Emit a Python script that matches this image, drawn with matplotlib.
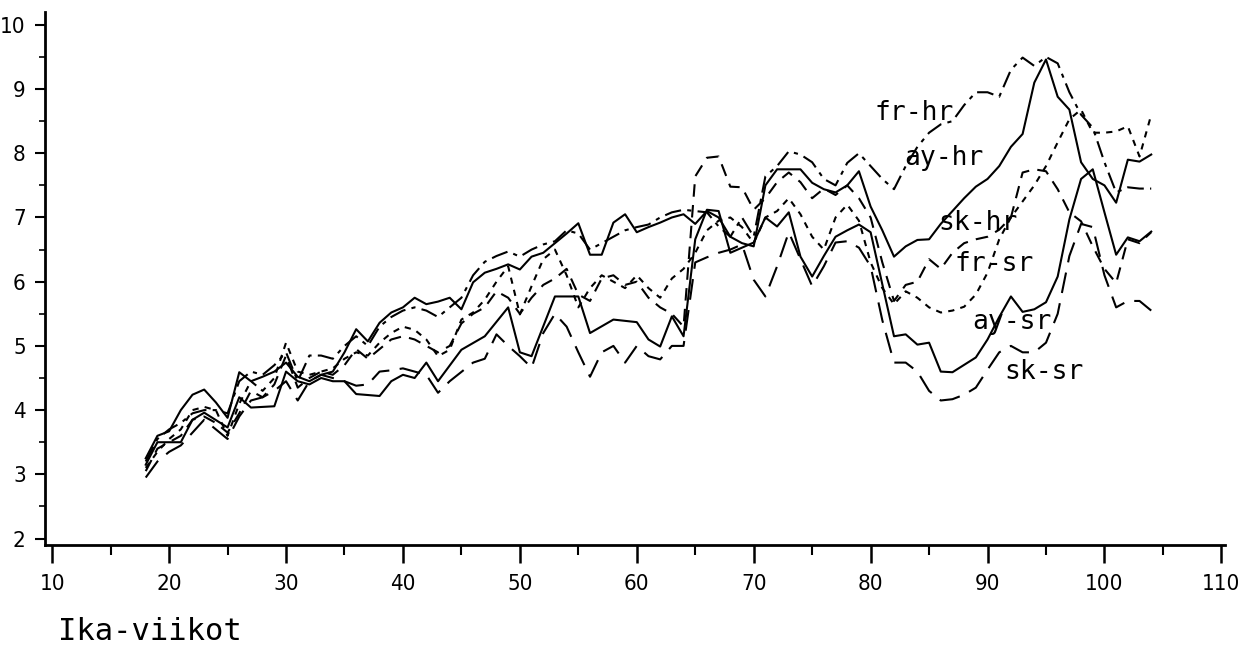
"""
Weekly curves by group, weeks 18-104
"""
import matplotlib
matplotlib.use('Agg')
import matplotlib.pyplot as plt
from matplotlib.ticker import MultipleLocator

# data (week, value)
frhr_w = [18,19,20,21,22,23,24,25,26,27,28,29,30,31,32,33,34,35,36,37,38,39,40,41,42,43,44,45,46,47,48,49,50,
          51,52,53,54,55,56,57,58,59,60,61,62,63,64,65,66,67,68,69,70,71,72,73,74,75,76,77,78,79,80,81,82,83,
          84,85,86,87,88,89,90,91,92,93,94,95,96,97,98,99,100,101,102,103,104]
frhr_v = [3.2,3.55,3.7,3.8,3.95,4.0,4.0,3.95,4.45,4.6,4.55,4.7,4.9,4.45,4.85,4.85,4.8,5.0,5.15,5.0,5.3,5.45,
          5.55,5.6,5.55,5.45,5.6,5.75,6.1,6.31,6.4,6.47,6.39,6.5,6.58,6.63,6.8,6.75,6.5,6.6,6.7,6.8,6.85,
          6.89,7.0,7.08,7.12,7.1,7.08,6.86,6.7,7.0,6.7,7.64,7.8,8.03,7.98,7.86,7.6,7.5,7.85,8.0,7.8,7.6,
          7.44,7.8,8.1,8.32,8.45,8.5,8.75,8.95,8.95,8.88,9.3,9.49,9.36,9.5,9.4,8.95,8.6,8.4,7.86,7.39,
          7.47,7.45,7.45]

ayhr_w = [18,19,20,21,22,23,24,25,26,27,28,29,30,31,32,33,34,35,36,37,38,39,40,41,42,43,44,45,46,47,48,49,50,
          51,52,53,54,55,56,57,58,59,60,61,62,63,64,65,66,67,68,69,70,71,72,73,74,75,76,77,78,79,80,81,82,83,
          84,85,86,87,88,89,90,91,92,93,94,95,96,97,98,99,100,101,102,103,104]
ayhr_v = [3.25,3.6,3.67,4.0,4.24,4.32,4.12,3.88,4.59,4.45,4.52,4.6,4.74,4.52,4.45,4.55,4.6,4.9,5.26,5.07,5.36,
          5.52,5.6,5.75,5.65,5.69,5.75,5.57,5.99,6.14,6.2,6.27,6.19,6.39,6.45,6.6,6.75,6.91,6.42,6.42,6.92,
          7.05,6.77,6.85,6.92,7.0,7.05,6.9,7.1,7.0,6.7,6.6,6.55,7.5,7.75,7.75,7.75,7.54,7.44,7.39,7.5,7.72,
          7.17,6.8,6.39,6.55,6.65,6.66,6.9,7.1,7.3,7.48,7.6,7.8,8.1,8.3,9.1,9.46,8.88,8.68,7.86,7.6,7.5,
          7.23,7.9,7.87,7.98]

skhr_w = [18,19,20,21,22,23,24,25,26,27,28,29,30,31,32,33,34,35,36,37,38,39,40,41,42,43,44,45,46,47,48,49,50,
          51,52,53,54,55,56,57,58,59,60,61,62,63,64,65,66,67,68,69,70,71,72,73,74,75,76,77,78,79,80,81,82,83,
          84,85,86,87,88,89,90,91,92,93,94,95,96,97,98,99,100,101,102,103,104]
skhr_v = [3.05,3.4,3.5,3.6,3.85,3.9,3.8,3.65,3.95,4.3,4.2,4.4,4.85,4.35,4.5,4.6,4.55,4.7,4.95,4.8,4.95,5.1,
          5.15,5.1,5.0,4.9,5.0,5.35,5.5,5.6,5.85,5.75,5.5,5.75,5.95,6.05,6.2,5.8,5.7,6.05,6.1,5.95,6.0,5.75,
          5.6,5.5,5.3,7.64,7.93,7.95,7.48,7.47,7.12,7.3,7.55,7.7,7.55,7.3,7.45,7.35,7.5,7.3,7.0,6.3,5.7,
          5.95,6.0,6.35,6.2,6.45,6.6,6.66,6.7,6.81,7.0,7.7,7.75,7.72,7.44,7.08,6.94,6.55,6.2,5.98,6.66,
          6.6,6.77]

frsr_w = [18,19,20,21,22,23,24,25,26,27,28,29,30,31,32,33,34,35,36,37,38,39,40,41,42,43,44,45,46,47,48,49,50,
          51,52,53,54,55,56,57,58,59,60,61,62,63,64,65,66,67,68,69,70,71,72,73,74,75,76,77,78,79,80,81,82,83,
          84,85,86,87,88,89,90,91,92,93,94,95,96,97,98,99,100,101,102,103,104]
frsr_v = [3.1,3.35,3.55,3.7,4.0,4.05,4.0,3.6,4.1,4.45,4.3,4.5,5.05,4.6,4.55,4.6,4.65,4.8,4.9,4.85,5.05,5.2,
          5.3,5.25,5.1,4.84,4.94,5.41,5.52,5.72,6.0,6.24,5.49,5.93,6.35,6.5,6.1,5.6,5.9,6.1,6.0,5.9,6.1,
          5.9,5.75,6.05,6.2,6.45,6.8,6.95,7.0,6.85,6.6,7.0,7.1,7.3,7.05,6.7,6.5,7.0,7.2,6.95,6.3,5.9,
          5.65,5.85,5.75,5.6,5.52,5.55,5.61,5.8,6.14,6.66,7.0,7.25,7.5,7.8,8.17,8.53,8.68,8.32,8.32,
          8.34,8.42,7.95,8.6]

aysr_w = [18,19,20,21,22,23,25,26,27,29,30,31,32,33,34,35,36,38,39,40,41,42,43,45,47,49,50,51,53,55,56,58,
          60,61,62,63,64,65,66,67,68,70,71,72,73,74,75,76,77,78,79,80,82,83,84,85,86,87,89,90,91,92,93,94,
          95,96,97,98,99,100,101,102,103,104]
aysr_v = [3.15,3.5,3.5,3.5,3.85,3.96,3.73,4.2,4.04,4.06,4.6,4.45,4.4,4.5,4.45,4.45,4.25,4.22,4.45,4.55,4.5,
          4.74,4.45,4.94,5.15,5.6,4.9,4.84,5.77,5.77,5.2,5.41,5.37,5.1,4.99,5.46,5.15,6.66,7.12,7.1,6.45,
          6.61,7.0,6.86,7.08,6.39,6.08,6.4,6.7,6.8,6.89,6.77,5.15,5.18,5.02,5.05,4.6,4.59,4.82,5.1,5.45,
          5.77,5.53,5.57,5.68,6.08,6.97,7.6,7.75,7.08,6.42,6.69,6.63,6.78]

sksr_w = [18,19,20,21,22,23,24,25,26,27,28,29,30,31,32,33,34,35,36,37,38,39,40,41,42,43,44,46,47,48,49,50,51,
          52,53,54,55,56,57,58,59,60,61,62,63,64,65,66,67,68,69,70,71,72,73,74,75,76,77,78,79,80,81,82,83,
          84,85,86,87,88,89,90,91,92,93,94,95,96,97,98,99,100,101,102,103,104]
sksr_v = [2.95,3.2,3.35,3.45,3.65,3.85,3.7,3.55,3.9,4.15,4.2,4.3,4.45,4.15,4.45,4.55,4.5,4.45,4.38,4.4,4.6,
          4.62,4.65,4.6,4.55,4.27,4.45,4.74,4.8,5.18,5.0,4.84,4.66,5.2,5.5,5.3,4.9,4.52,4.9,5.0,4.74,5.0,
          4.84,4.79,5.0,5.0,6.3,6.38,6.45,6.5,6.58,6.03,5.77,6.24,6.77,6.35,5.93,6.24,6.61,6.63,6.53,6.24,
          5.4,4.74,4.74,4.6,4.3,4.15,4.17,4.24,4.35,4.63,4.9,5.0,4.9,4.9,5.05,5.5,6.4,6.9,6.85,6.1,5.6,
          5.7,5.7,5.55]

labels = ['fr-hr', 'ay-hr', 'sk-hr', 'fr-sr', 'ay-sr', 'sk-sr']
label_pos = [(80.3, 8.63), (82.9, 7.93), (85.8, 6.92), (87.2, 6.27), (88.7, 5.38), (91.4, 4.60)]

series = [(frhr_w, frhr_v, (0, (8, 3, 2, 3))),
          (ayhr_w, ayhr_v, '-'),
          (skhr_w, skhr_v, (0, (6, 4))),
          (frsr_w, frsr_v, (0, (3, 3))),
          (aysr_w, aysr_v, '-'),
          (sksr_w, sksr_v, (0, (10, 5)))]

tickfont = ['Liberation Sans Narrow', 'DejaVu Sans']

fig = plt.figure(figsize=(12.55, 6.48), dpi=100)
ax = fig.add_axes([0.036, 0.159, 0.94, 0.8225])

for w, v, ls in series:
    ax.plot(w, v, color='k', linestyle=ls, linewidth=1.5)

for lab, (x, y) in zip(labels, label_pos):
    ax.text(x, y, lab, fontsize=19, family='DejaVu Sans Mono', va='center', ha='left')

ax.set_xlim(9.4, 110.3)
ax.set_ylim(1.9, 10.2)
ax.xaxis.set_major_locator(MultipleLocator(10))
ax.xaxis.set_minor_locator(MultipleLocator(5))
ax.yaxis.set_major_locator(MultipleLocator(1))
ax.yaxis.set_minor_locator(MultipleLocator(0.5))
ax.set_yticks(range(2, 11))
ax.set_xticks(range(10, 111, 10))

for s in ['top', 'right']:
    ax.spines[s].set_visible(False)
for s in ['left', 'bottom']:
    ax.spines[s].set_linewidth(2)

ax.tick_params(axis='x', which='major', direction='out', length=13, width=1.8, pad=8)
ax.tick_params(axis='x', which='minor', direction='out', length=7, width=1.5)
ax.tick_params(axis='y', which='major', direction='out', length=7, width=1.5, pad=7)
ax.tick_params(axis='y', which='minor', direction='out', length=4, width=1.2)
for t in ax.get_xticklabels() + ax.get_yticklabels():
    t.set_family(tickfont)
    t.set_stretch('condensed')
    t.set_fontsize(16)

fig.text(0.046, 1 - 632 / 648, 'Ika-viikot', fontsize=22, family='DejaVu Sans Mono', va='center', ha='left')

plt.savefig('out.png', dpi=100, facecolor='white')
